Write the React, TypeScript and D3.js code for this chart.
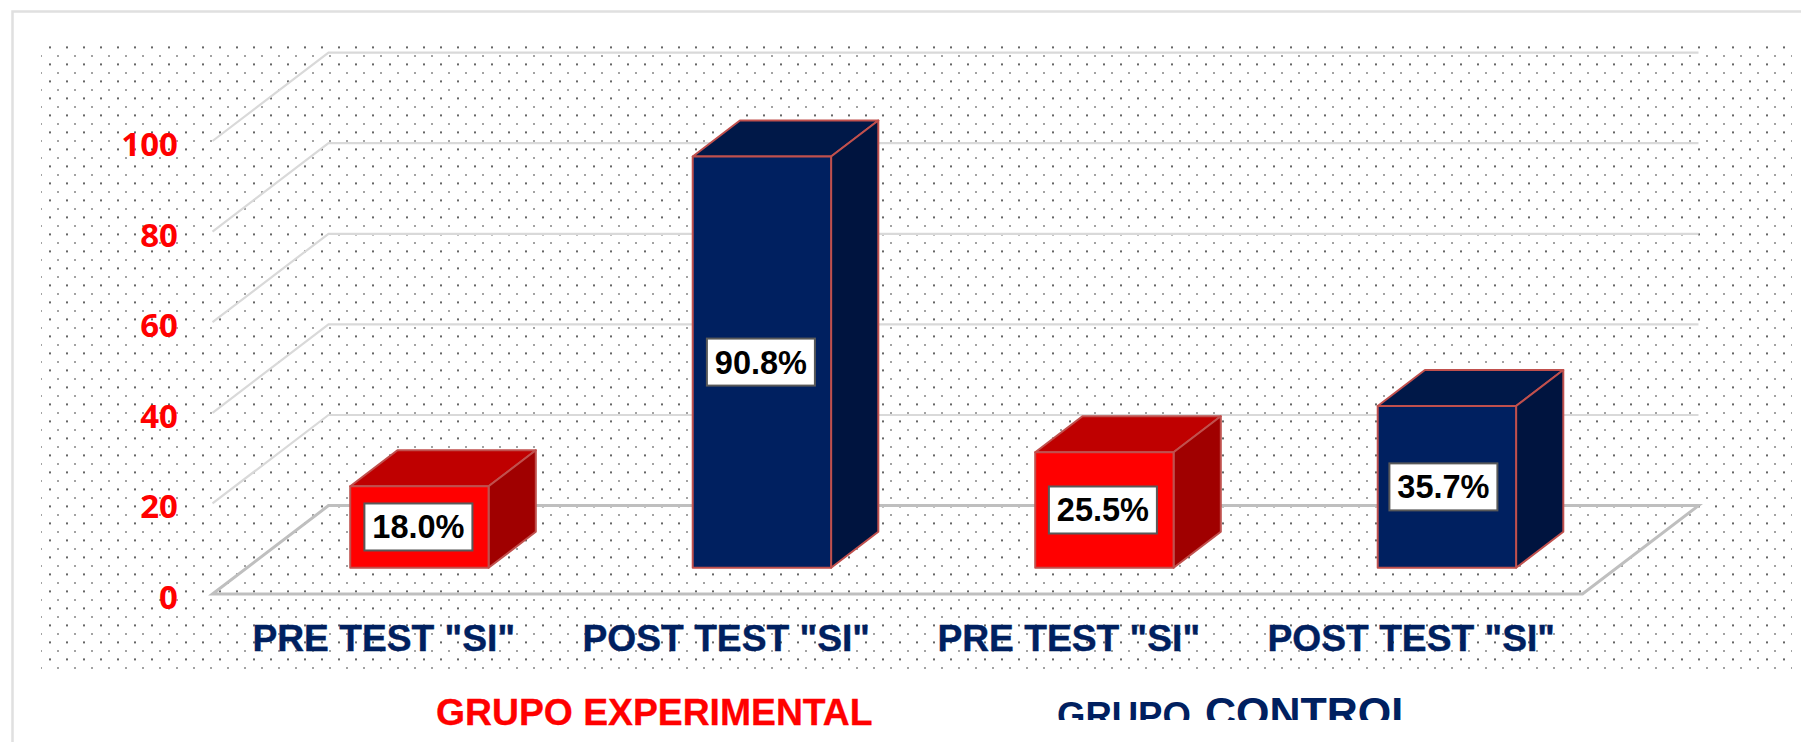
import * as d3 from "d3";

const categories = ["a", "b", "c", "d"];
const categoryLabels = ['PRE TEST "SI"', 'POST TEST "SI"', 'PRE TEST "SI"', 'POST TEST "SI"'];
const values = [18.0, 90.8, 25.5, 35.7];
const groups = ["red", "navy", "red", "navy"];
const yTicks = [0, 20, 40, 60, 80, 100];

const palette = {
  red: { front: "#ff0000", top: "#bf0000", side: "#a00000" },
  navy: { front: "#002060", top: "#001848", side: "#00143f" },
};

const width = 1801;
const height = 742;

// floor is drawn as an oblique projection: depth 0 = front edge, 1 = back wall
const depthX = 116;
const depthY = 88.4;
const barFrontDepth = 0.297;
const barBackDepth = 0.704;
const barShift = 1.2;

const x = d3
  .scaleBand()
  .domain(categories)
  .range([212.5, 1582.5])
  .paddingInner(0.596)
  .paddingOuter(0.298);
const y = d3.scaleLinear().domain([0, 100]).range([594, 141]);

const line = d3.line();
const project = (px: number, value: number, depth: number): [number, number] => [
  px + depth * depthX,
  y(value) - depth * depthY,
];

// data labels were hand placed in the original, slightly off the bar centre
const labelNudge = [-1, -1, -1.5, -3.5];

function Bar({ i }: { i: number }) {
  const x0 = (x(categories[i]) as number) + barShift;
  const x1 = x0 + x.bandwidth();
  const v = values[i];
  const colors = palette[groups[i]];
  const f = barFrontDepth;
  const b = barBackDepth;
  const faces = [
    { fill: colors.top, pts: [project(x0, v, f), project(x0, v, b), project(x1, v, b), project(x1, v, f)] },
    { fill: colors.side, pts: [project(x1, v, f), project(x1, v, b), project(x1, 0, b), project(x1, 0, f)] },
    { fill: colors.front, pts: [project(x0, v, f), project(x1, v, f), project(x1, 0, f), project(x0, 0, f)] },
  ];
  const [cx, cy] = project((x0 + x1) / 2, v / 2, f);
  const lx = cx + labelNudge[i];
  return (
    <g>
      {faces.map((face, k) => (
        <path
          key={k}
          d={line(face.pts) + "Z"}
          fill={face.fill}
          stroke="#c0504d"
          strokeWidth={2}
          strokeLinejoin="round"
        />
      ))}
      <rect x={lx - 54} y={cy - 23.5} width={108} height={47} fill="#fff" stroke="#595959" strokeWidth={2} />
      <text
        x={lx}
        y={cy + 11.5}
        textAnchor="middle"
        fontFamily="'Liberation Sans', Arial, sans-serif"
        fontWeight="bold"
        fontSize={32.5}
        fill="#000"
      >
        {d3.format(".1f")(v)}%
      </text>
    </g>
  );
}

export default function App() {
  const sans = "'Liberation Sans', Arial, sans-serif";
  return (
    <svg
      width={width}
      height={height}
      style={{ position: "absolute", left: 0, top: 0, display: "block", background: "#fff" }}
    >
      <defs>
        <pattern id="dots" patternUnits="userSpaceOnUse" x={40} y={46} width={17} height={17}>
          <rect x={9} y={0.4} width={2} height={2} fill="#666" />
          <rect x={0} y={9.4} width={2} height={1.2} fill="#666" />
        </pattern>
        <clipPath id="titleClip">
          <rect x={0} y={0} width={width} height={720} />
        </clipPath>
      </defs>

      <path d={`M${width},11.5H12.5V${height}`} fill="none" stroke="#e0e0e0" strokeWidth={2.5} />
      <rect x={41} y={46} width={1751} height={623} fill="url(#dots)" />

      {/* walls */}
      {yTicks
        .filter((t) => t > 0)
        .map((t) => (
          <path
            key={t}
            d={line([project(x.range()[0], t, 0), project(x.range()[0], t, 1), project(x.range()[1], t, 1)]) as string}
            fill="none"
            stroke="#d9d9d9"
            strokeWidth={2.2}
          />
        ))}
      {/* floor */}
      <path
        d={
          line([
            project(x.range()[0], 0, 0),
            project(x.range()[0], 0, 1),
            project(x.range()[1], 0, 1),
            project(x.range()[1], 0, 0),
          ]) + "Z"
        }
        fill="none"
        stroke="#bfbfbf"
        strokeWidth={3}
      />

      {categories.map((c, i) => (
        <Bar key={c} i={i} />
      ))}

      {yTicks.map((t) => (
        <text
          key={t}
          x={178}
          y={y(t) + 15}
          textAnchor="end"
          fontFamily="'Noto Sans', sans-serif"
          fontWeight="bold"
          fontSize={33}
          fill="#ff0000"
        >
          {t}
        </text>
      ))}

      {categories.map((c, i) => (
        <text
          key={c}
          x={(x(c) as number) + x.bandwidth() / 2}
          y={650.5}
          textAnchor="middle"
          fontFamily={sans}
          fontWeight="bold"
          fontSize={37.2}
          fill="#002060"
          stroke="#002060"
          strokeWidth={0.4}
        >
          {categoryLabels[i]}
        </text>
      ))}

      <text
        x={436}
        y={725}
        fontFamily={sans}
        fontWeight="bold"
        fontSize={37.3}
        fill="#ff0000"
        stroke="#ff0000"
        strokeWidth={0.3}
      >
        GRUPO EXPERIMENTAL
      </text>
      <g clipPath="url(#titleClip)" fontFamily={sans} fontWeight="bold" fill="#002060">
        <text x={1057} y={728} fontSize={36.5}>
          GRUPO
        </text>
        <text x={1205} y={727} fontSize={43}>
          CONTROL
        </text>
      </g>
    </svg>
  );
}
